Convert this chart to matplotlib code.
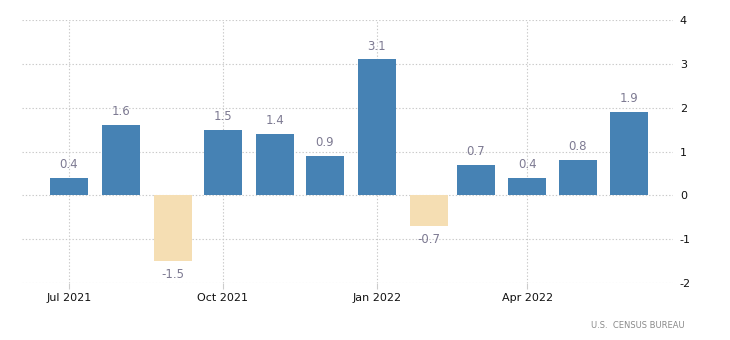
import matplotlib
matplotlib.use("Agg")
import matplotlib.pyplot as plt
import matplotlib.dates as mdates
import numpy as np
import datetime as dt

months = ["2021-07", "2021-08", "2021-09", "2021-10", "2021-11", "2021-12",
          "2022-01", "2022-02", "2022-03", "2022-04", "2022-05", "2022-06"]
values = [0.4, 1.6, -1.5, 1.5, 1.4, 0.9, 3.1, -0.7, 0.7, 0.4, 0.8, 1.9]
tick_months = ["2021-07", "2021-10", "2022-01", "2022-04"]
tick_labels = ["Jul 2021", "Oct 2021", "Jan 2022", "Apr 2022"]
y_ticks = [-2, -1, 0, 1, 2, 3, 4]
source = "U.S.  CENSUS BUREAU"

POS = "#4682b4"
NEG = "#f5deb3"

def to_num(s):
    y, m = s.split("-")
    return mdates.date2num(dt.date(int(y), int(m), 1))

x = np.array([to_num(m) for m in months])
colors = [POS if v >= 0 else NEG for v in values]

fig = plt.figure(figsize=(7.3, 3.4), dpi=100)
ax = fig.add_axes([0.0301, 0.1676, 0.8918, 0.7735])

ax.bar(x, values, width=22.7, color=colors, zorder=3)

for xi, v in zip(x, values):
    if v >= 0:
        ax.annotate(f"{v:.1f}", (xi, v), xytext=(0, 5), textcoords="offset points",
                    ha="center", va="bottom", fontsize=8.5, color="#7d7a92")
    else:
        ax.annotate(f"{v:.1f}", (xi, v), xytext=(0, -5), textcoords="offset points",
                    ha="center", va="top", fontsize=8.5, color="#7d7a92")

ax.set_xlim(mdates.date2num(dt.date(2021, 6, 3)), mdates.date2num(dt.date(2022, 6, 27)))
ax.set_ylim(-2, 4)
ax.set_yticks(y_ticks)
ax.set_yticklabels([str(t) for t in y_ticks])
ax.set_xticks([to_num(m) for m in tick_months])
ax.set_xticklabels(tick_labels)

ax.yaxis.tick_right()
ax.tick_params(axis="y", length=0, pad=5, labelsize=8, labelcolor="#111111")
ax.tick_params(axis="x", length=4, width=0.8, color="#cccccc", pad=3,
               labelsize=8, labelcolor="#111111")

ax.grid(True, which="major", axis="both", linestyle=(0, (1.2, 1.8)),
        color="#c8c8c8", linewidth=0.8, zorder=0)
for s in ax.spines.values():
    s.set_visible(False)

fig.text(0.938, 0.03, source, ha="right", va="bottom", fontsize=6,
         color="#8a8a8a")

fig.savefig("out.png", dpi=100)
